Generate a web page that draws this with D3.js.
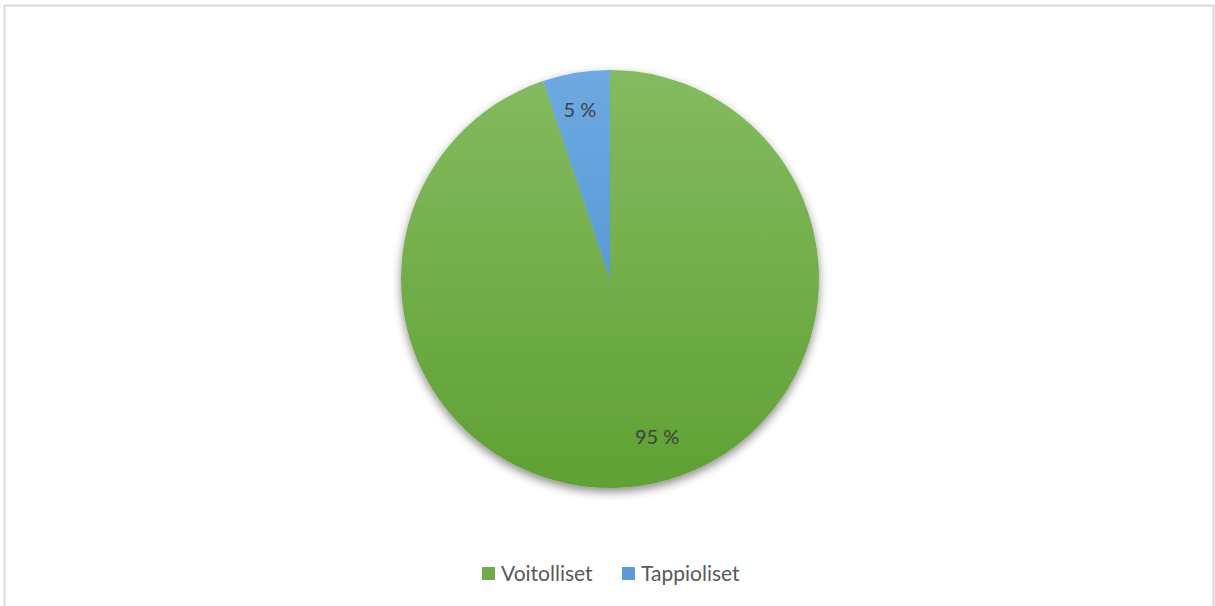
<!DOCTYPE html>
<html><head><meta charset="utf-8">
<script src="https://cdn.jsdelivr.net/npm/d3@7"></script>
<style>body{margin:0;background:#fff}svg{display:block}text{font-family:Lato,"Open Sans",sans-serif}</style>
</head><body><svg id="c" width="1215" height="606"></svg>
<script>
const categories = ["Voitolliset", "Tappioliset"];
const values = [94.8, 5.2];
const labels = ["95 %", "5 %"];
const colorsTop = ["#84bb5f", "#6eaae1"];
const colorsBot = ["#5fa133", "#4589cd"];
const legendColors = ["#70ad47", "#5b9bd5"];

const svg = d3.select("#c");
svg.append("rect").attr("x",4.5).attr("y",5.5).attr("width",1209).attr("height",610).attr("fill","#fff").attr("stroke","#d9d9d9").attr("stroke-width",2);

const cx = 610, cy = 279, r = 209;
const defs = svg.append("defs");
categories.forEach((c,i)=>{
  const g = defs.append("linearGradient").attr("id","g"+i).attr("gradientUnits","userSpaceOnUse")
    .attr("x1",0).attr("y1",-r).attr("x2",0).attr("y2",r);
  g.append("stop").attr("offset","0%").attr("stop-color",colorsTop[i]);
  g.append("stop").attr("offset","100%").attr("stop-color",colorsBot[i]);
});
const f = defs.append("filter").attr("id","sh").attr("x","-20%").attr("y","-20%").attr("width","140%").attr("height","140%");
f.append("feDropShadow").attr("dx",0).attr("dy",4).attr("stdDeviation",5).attr("flood-color","#000").attr("flood-opacity",0.45);

const pie = d3.pie().sort(null).value(d=>d)(values);
const arc = d3.arc().innerRadius(0).outerRadius(r);
const gp = svg.append("g").attr("transform",`translate(${cx},${cy})`);
const gIn = gp.append("g").attr("filter","url(#sh)");
gIn.selectAll("path").data(pie).join("path")
  .attr("d",arc).attr("fill",(d,i)=>`url(#g${i})`);

// labels (best-fit style nudge for the big slice)
const lr = d3.arc().innerRadius(r*0.8).outerRadius(r*0.8);
const nudge = [[20,-7],[-3,-4]];
gp.selectAll("text.lab").data(pie).join("text").attr("class","lab")
  .attr("x",(d,i)=>lr.centroid(d)[0]+nudge[i][0])
  .attr("y",(d,i)=>lr.centroid(d)[1]+nudge[i][1])
  .attr("text-anchor","middle").attr("dy","0.35em")
  .attr("font-size",20).attr("fill","#404040").text((d,i)=>labels[i]);

// legend
const lg = svg.append("g");
const items = [{x:482, tx:501},{x:622, tx:641}];
categories.forEach((c,i)=>{
  lg.append("rect").attr("x",items[i].x).attr("y",567).attr("width",13).attr("height",13).attr("fill",legendColors[i]);
  lg.append("text").attr("x",items[i].tx).attr("y",581).attr("font-size",21).attr("fill","#595959").text(c);
});
</script></body></html>
